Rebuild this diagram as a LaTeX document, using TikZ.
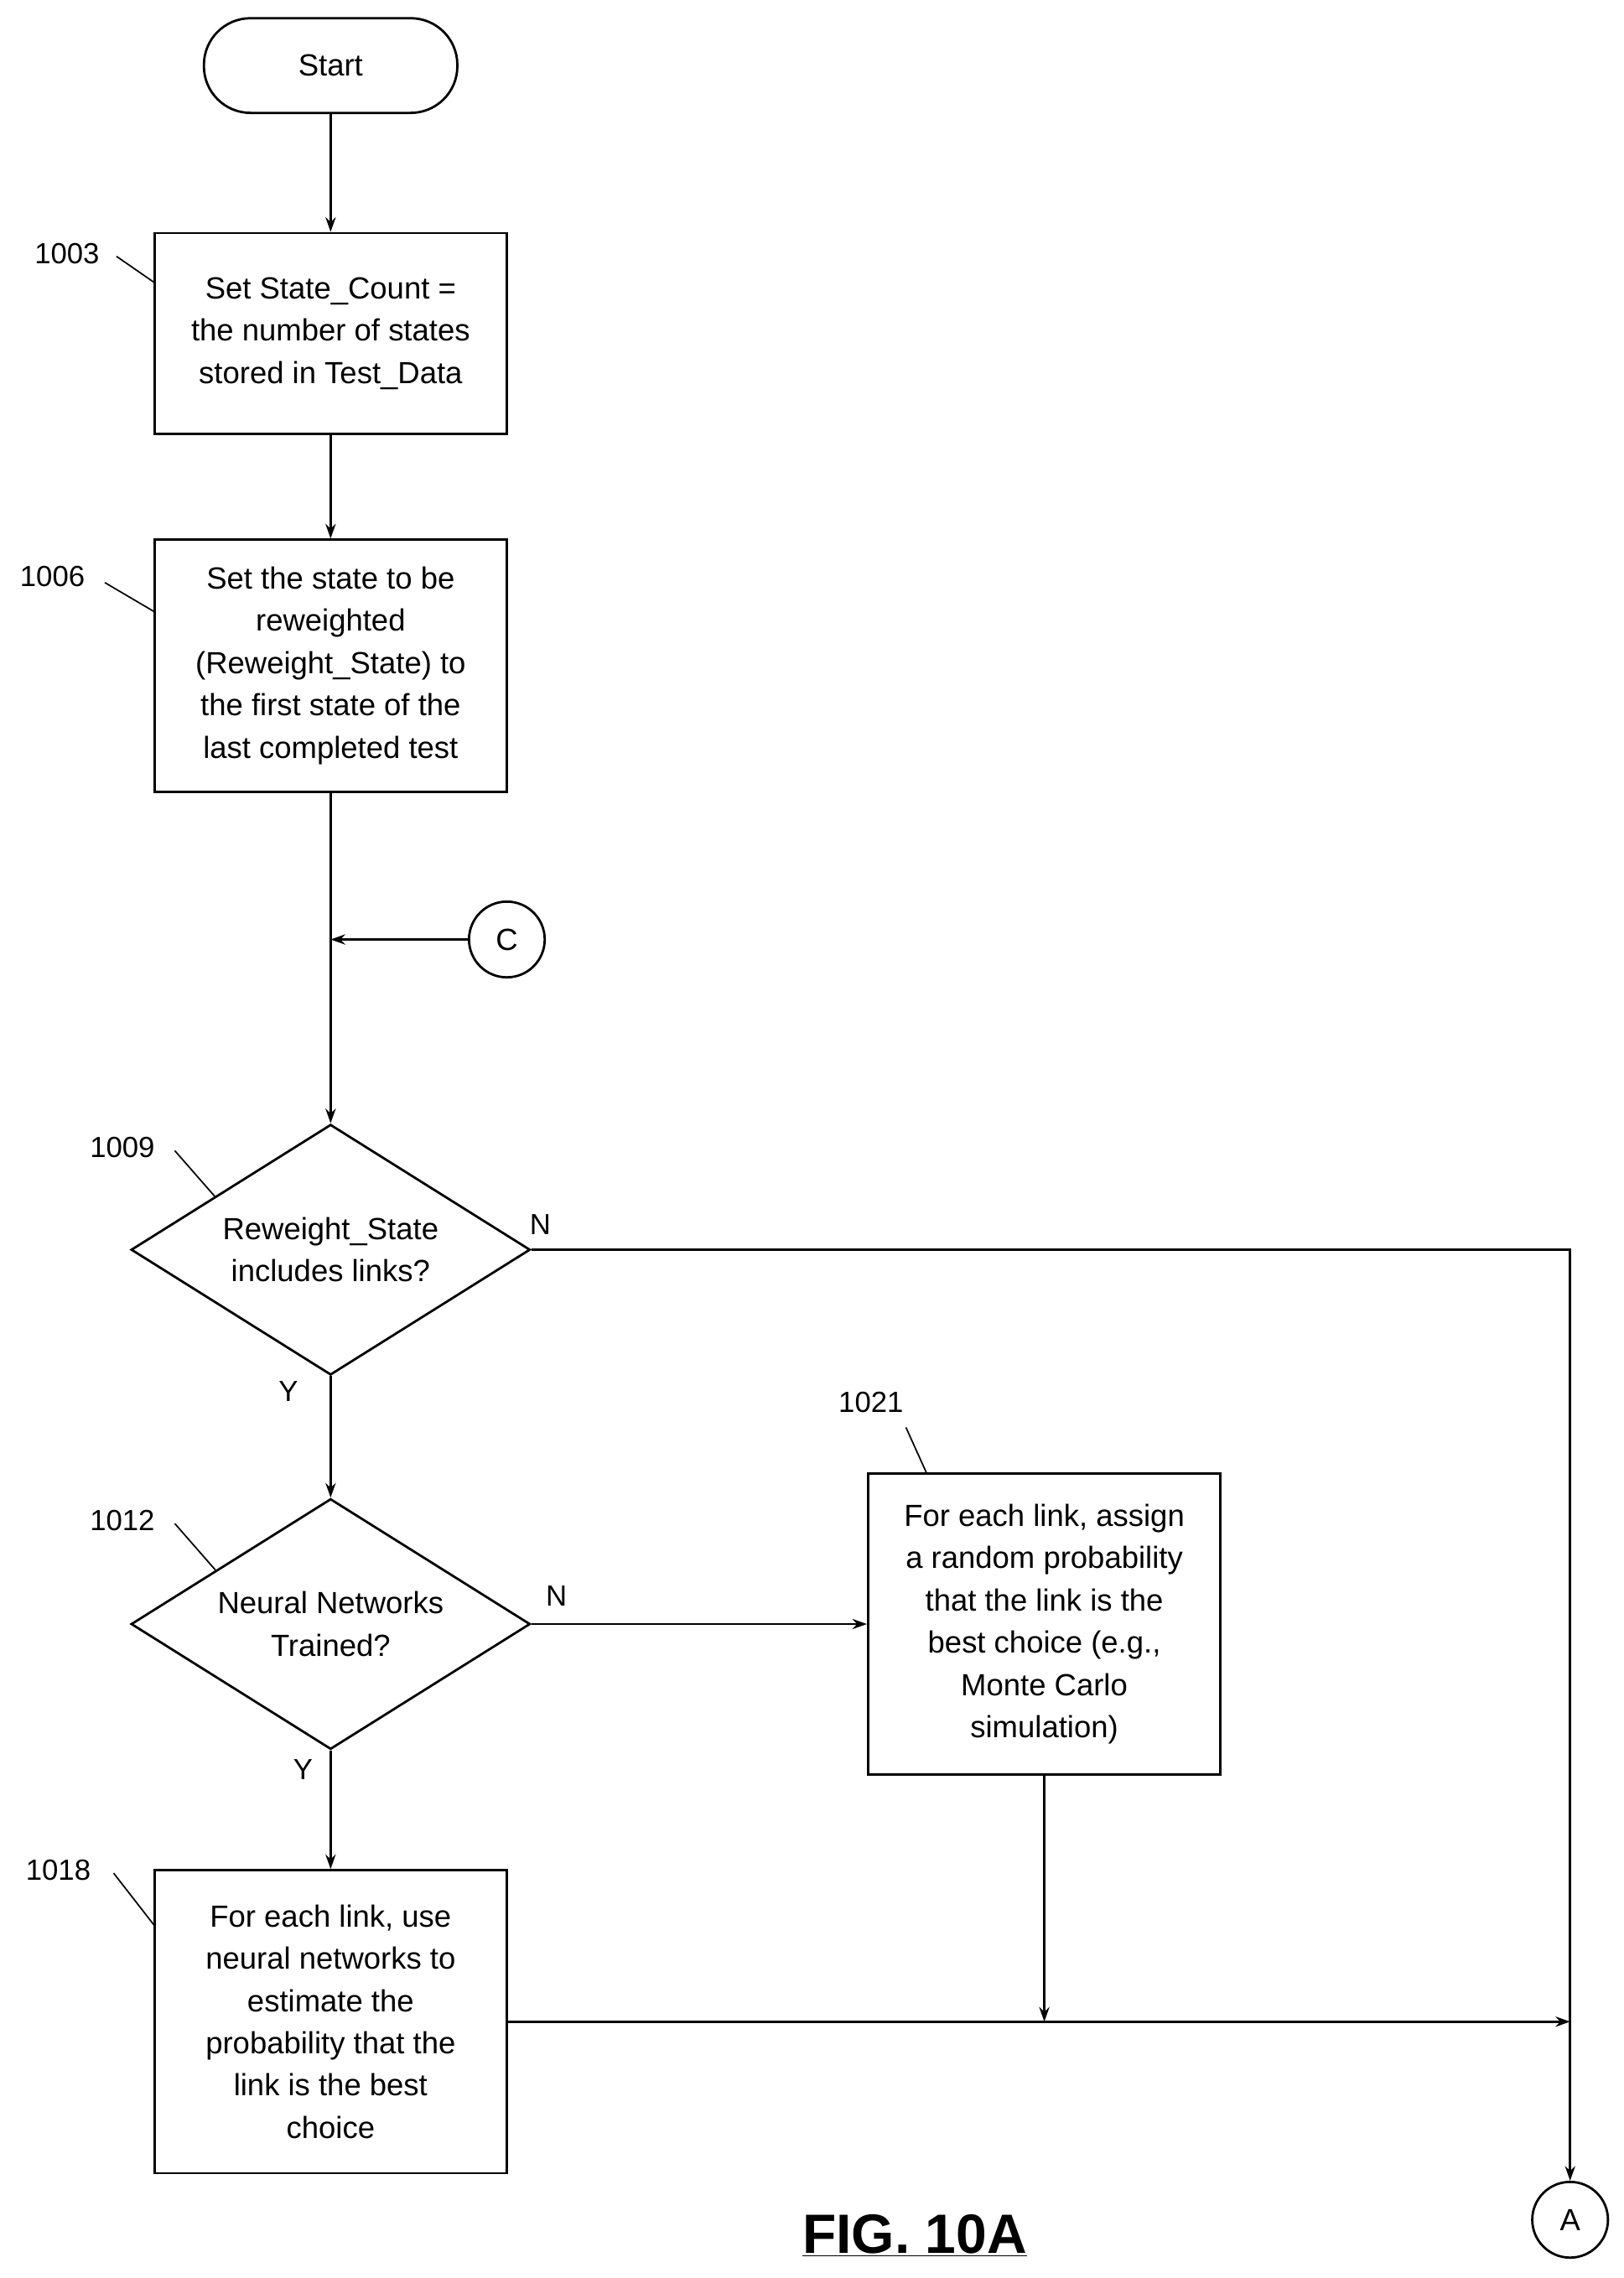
\documentclass[tikz,border=0pt]{standalone}
\usepackage{fontspec}
\setmainfont{Liberation Sans}
\usetikzlibrary{shapes.geometric,arrows.meta}
\begin{document}
\begin{tikzpicture}[x=1pt,y=-1pt,line width=1.6pt,
  >={Stealth[length=10pt,width=7pt]},
  every node/.style={font=\fontsize{21}{29}\selectfont},
  box/.style={draw,align=center,inner sep=0pt},
  dia/.style={draw,diamond,aspect=1.6,minimum width=274pt,minimum height=172pt,inner sep=0pt,align=center},
  con/.style={draw,circle,minimum size=52pt,inner sep=0pt},
  lbl/.style={font=\fontsize{20}{24}\selectfont},
  lead/.style={line width=1pt}]
\useasboundingbox (0,0) rectangle (1115,1564);
\node[draw,rounded corners=32pt,minimum width=174pt,minimum height=65pt] (start) at (227,45) {Start};
\node[box,minimum width=242pt,minimum height=138pt] (b1003) at (227,229) {Set State\_Count =\\the number of states\\stored in Test\_Data};
\node[box,minimum width=242pt,minimum height=173pt] (b1006) at (227,457) {Set the state to be\\reweighted\\(Reweight\_State) to\\the first state of the\\last completed test};
\node[con] (C) at (348,645) {C};
\coordinate (m) at (227,645);
\node[dia] (d1009) at (227,858) {Reweight\_State\\includes links?};
\node[dia] (d1012) at (227,1115) {Neural Networks\\Trained?};
\node[box,minimum width=242pt,minimum height=207pt] (b1021) at (717,1115) {For each link, assign\\a random probability\\that the link is the\\best choice (e.g.,\\Monte Carlo\\simulation)};
\node[box,minimum width=242pt,minimum height=208pt] (b1018) at (227,1388) {For each link, use\\neural networks to\\estimate the\\probability that the\\link is the best\\choice};
\node[con] (A) at (1078,1524) {A};
\coordinate (corner) at (1078,858);
\coordinate (j) at (717,1388);
\coordinate (e) at (1078,1388);
\draw[->] (start) -- (b1003);
\draw[->] (b1003) -- (b1006);
\draw[->] (b1006) -- (d1009);
\draw[->] (C) -- (m);
\draw[->] (d1009) -- (d1012);
\draw[->] (d1012) -- (b1018);
\draw[->] (d1012) -- (b1021);
\draw[->] (d1009.east) -- (corner) -- (A);
\draw[->] (b1018.east |- e) -- (e);
\draw[->] (b1021) -- (j);
\node[lbl] (n1) at (371,841) {N};
\node[lbl] (n2) at (382,1096) {N};
\node[lbl] (y1) at (198,955) {Y};
\node[lbl] (y2) at (208,1215) {Y};
\node[lbl] (l1003) at (46,174) {1003};
\node[lbl] (l1006) at (36,396) {1006};
\node[lbl] (l1009) at (84,788) {1009};
\node[lbl] (l1012) at (84,1044) {1012};
\node[lbl] (l1021) at (598,963) {1021};
\node[lbl] (l1018) at (40,1284) {1018};
\draw[lead] (80,176) -- (106,194);
\draw[lead] (72,400) -- (106,420);
\draw[lead] (120,790) -- (148,822);
\draw[lead] (120,1046) -- (148,1078);
\draw[lead] (622,980) -- (636,1011);
\draw[lead] (78,1286) -- (106,1322);
\node[font=\fontsize{38}{40}\bfseries] (fig) at (628,1535) {\underline{FIG. 10A}};
\end{tikzpicture}
\end{document}
